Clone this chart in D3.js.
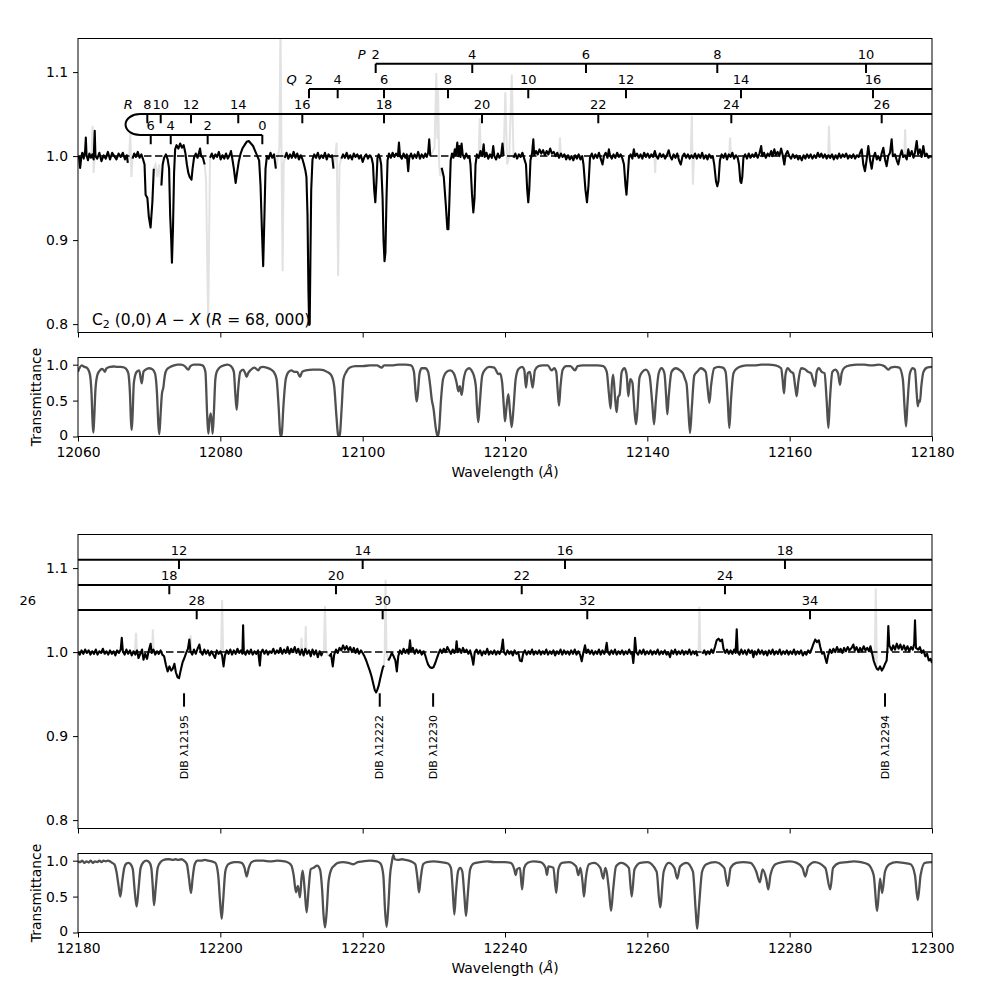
<!DOCTYPE html>
<html><head><meta charset="utf-8">
<script src="https://cdn.jsdelivr.net/npm/d3@7"></script>
<style>body{margin:0;background:#fff}svg{display:block}</style>
</head><body><svg id="c" width="981" height="981"></svg>
<script>
// ---------------- DATA ----------------
const xTicksTop = [12060,12080,12100,12120,12140,12160,12180];
const xTicksBottom = [12180,12200,12220,12240,12260,12280,12300];
const yTicksMain = [0.8,0.9,1.0,1.1];
const yTicksTell = [0,0.5,1.0];

// C2 line list (J, wavelength)
const topP = [[2,12101.83],[4,12115.40],[6,12131.38],[8,12149.83],[10,12170.73]];
const topQ = [[2,12092.46],[4,12096.49],[6,12103.00],[8,12111.99],[10,12123.27],[12,12137.00],[14,12153.16],[16,12171.71]];
const topRHigh = [[8,12069.74],[10,12071.62],[12,12075.88],[14,12082.52],[16,12091.52],[18,12103.00],[20,12116.77],[22,12133.11],[24,12151.80],[26,12172.93]];
const topRLow = [[0,12085.90],[2,12078.22],[4,12073.03],[6,12070.22]];
const botP = [[12,12194.19],[14,12220.00],[16,12248.43],[18,12279.34]];
const botQ = [[18,12192.83],[20,12216.25],[22,12242.35],[24,12270.91]];
const botR = [[26,12172.93],[28,12196.68],[30,12222.81],[32,12251.56],[34,12282.86]];
const branchLevels = {P:1.11, Q:1.08, R:1.05, Rlow:1.025};
const rHeadTurn = 12068.71, rHeadTip = 12066.68;
const branchLetterPos = [["P",12099.86],["Q",12090.03],["R",12067.07]];

const dibWave = [12194.9,12222.4,12229.9,12293.4];
const dibNames = ["DIB λ12195","DIB λ12222","DIB λ12230","DIB λ12294"];

// observed (corrected) spectrum, top panel: segments separated by masked gaps
const topSpectrum = [
[[12060.0,0.996],[12060.15,0.999],[12060.3,0.986],[12060.45,0.998],[12060.6,1.004],[12060.8,0.997],[12061.0,1.006],[12061.1,1.022],[12061.2,1.001],[12061.4,0.995],[12061.6,1.003],[12061.8,0.998],[12062.0,1.002],[12062.2,0.996],[12062.35,1.030],[12062.45,1.0],[12062.7,0.997],[12063.0,1.004],[12063.3,0.994],[12063.6,1.001],[12063.9,0.997],[12064.2,1.005],[12064.5,0.996],[12064.8,1.004],[12065.1,1.0],[12065.4,0.996],[12065.7,1.003],[12066.0,0.999],[12066.3,1.004],[12066.6,0.996],[12066.85,1.001],[12067.0,0.992]],
[[12067.65,0.997],[12067.9,1.003],[12068.15,0.999],[12068.4,1.005],[12068.65,0.998],[12068.9,1.002],[12069.15,0.996],[12069.35,0.99],[12069.5,0.954],[12069.75,0.95],[12069.95,0.928],[12070.2,0.915],[12070.45,0.945],[12070.65,0.985]],
[[12071.72,0.965],[12071.9,0.99],[12072.1,0.998],[12072.35,1.002],[12072.6,0.996],[12072.8,0.985],[12072.95,0.93],[12073.1,0.9],[12073.2,0.873],[12073.35,0.915],[12073.5,0.98],[12073.65,1.008],[12073.85,1.013],[12074.1,1.009],[12074.35,1.015],[12074.6,1.01],[12074.85,1.013],[12075.1,1.003],[12075.3,0.99],[12075.5,0.98],[12075.7,0.975],[12075.95,0.972],[12076.1,0.985],[12076.3,0.998],[12076.55,1.003],[12076.8,0.998],[12077.0,1.004],[12077.15,1.009],[12077.3,1.0],[12077.55,0.998],[12077.8,0.99]],
[[12078.55,0.998],[12078.8,1.003],[12079.05,0.997],[12079.3,1.002],[12079.55,0.999],[12079.8,1.005],[12080.05,0.996],[12080.3,1.001],[12080.55,0.997],[12080.8,1.003],[12081.05,0.997],[12081.3,1.001],[12081.5,1.006],[12081.7,0.996],[12081.9,0.985],[12082.15,0.968],[12082.35,0.98],[12082.6,0.994],[12082.85,1.003],[12083.1,1.009],[12083.4,1.013],[12083.7,1.017],[12084.0,1.018],[12084.3,1.015],[12084.6,1.012],[12084.9,1.006],[12085.2,1.0],[12085.45,0.995],[12085.65,0.965],[12085.85,0.91],[12086.02,0.869],[12086.2,0.93],[12086.35,0.985],[12086.55,1.0],[12086.8,0.997],[12087.05,1.004],[12087.3,0.998],[12087.55,1.002],[12087.8,0.985]],
[[12089.05,0.998],[12089.3,1.004],[12089.55,0.997],[12089.8,1.002],[12090.05,0.998],[12090.3,1.005],[12090.55,0.998],[12090.8,1.003],[12091.05,0.996],[12091.3,1.001],[12091.55,0.996],[12091.75,0.99],[12091.95,0.983],[12092.1,0.975],[12092.25,0.93],[12092.38,0.84],[12092.48,0.799],[12092.56,0.8],[12092.66,0.88],[12092.77,0.96],[12092.95,0.996],[12093.2,1.002],[12093.45,0.998],[12093.7,1.004],[12093.95,0.997],[12094.2,1.001],[12094.45,0.998],[12094.7,1.004],[12094.95,0.996],[12095.2,1.002],[12095.45,0.999],[12095.7,1.001],[12095.9,0.985]],
[[12097.0,0.997],[12097.25,1.002],[12097.5,0.998],[12097.75,1.004],[12098.0,0.997],[12098.25,1.001],[12098.5,0.996],[12098.75,1.003],[12099.0,0.999],[12099.25,1.002],[12099.5,0.997],[12099.75,1.001],[12100.0,0.993],[12100.25,0.999],[12100.5,1.002],[12100.75,0.997],[12101.0,1.001],[12101.25,0.998],[12101.45,0.99],[12101.62,0.96],[12101.78,0.945],[12101.94,0.97],[12102.08,0.998],[12102.25,1.002],[12102.45,0.997],[12102.6,0.99],[12102.8,0.95],[12102.93,0.9],[12103.07,0.875],[12103.2,0.885],[12103.35,0.95],[12103.5,0.995],[12103.7,1.003],[12103.95,0.998],[12104.2,1.004],[12104.45,0.999],[12104.7,1.003],[12104.95,1.0],[12105.1,1.016],[12105.25,1.0],[12105.5,0.997],[12105.75,1.003],[12106.0,0.998],[12106.2,1.002],[12106.4,0.982],[12106.55,0.998],[12106.8,1.003],[12107.05,0.997],[12107.3,1.002],[12107.55,0.998],[12107.8,1.005],[12108.05,0.997],[12108.3,1.002],[12108.55,0.998],[12108.8,1.003],[12109.0,0.999],[12109.2,1.004],[12109.35,1.02],[12109.5,1.0]],
[[12111.1,0.986],[12111.4,0.975],[12111.7,0.94],[12111.9,0.913],[12112.05,0.913],[12112.2,0.95],[12112.37,0.995],[12112.55,1.003],[12112.75,0.998],[12112.95,1.008],[12113.1,1.001],[12113.3,1.016],[12113.45,1.0],[12113.6,1.012],[12113.75,0.999],[12113.9,1.015],[12114.05,1.002],[12114.3,0.997],[12114.55,1.003],[12114.8,0.998],[12115.0,1.0],[12115.15,0.99],[12115.36,0.955],[12115.55,0.933],[12115.72,0.95],[12115.86,0.99],[12116.05,1.002],[12116.3,0.998],[12116.55,1.006],[12116.8,1.0],[12117.0,1.014],[12117.15,0.999],[12117.4,1.004],[12117.65,0.997],[12117.9,1.002],[12118.15,0.998],[12118.35,1.012],[12118.5,1.0],[12118.75,0.996],[12119.0,1.003],[12119.2,0.998],[12119.45,1.001],[12119.65,1.015],[12119.8,1.0]],
[[12121.2,0.998],[12121.45,1.003],[12121.7,0.997],[12121.95,1.002],[12122.2,0.999],[12122.45,1.004],[12122.7,0.997],[12122.95,0.99],[12123.12,0.96],[12123.27,0.945],[12123.41,0.96],[12123.58,0.995],[12123.8,1.003],[12123.98,1.02],[12124.1,1.001],[12124.35,1.006],[12124.6,1.002],[12124.85,1.008],[12125.1,1.003],[12125.35,1.007],[12125.6,1.001],[12125.85,1.006],[12126.1,1.002],[12126.35,1.009],[12126.6,1.003],[12126.85,1.005],[12127.1,1.0],[12127.35,1.004],[12127.6,0.998],[12127.85,1.003],[12128.1,0.999],[12128.35,1.002],[12128.6,0.996],[12128.85,1.001],[12129.1,0.996],[12129.35,1.0],[12129.6,0.995],[12129.85,1.001],[12130.1,0.997],[12130.35,1.002],[12130.6,0.996],[12130.85,1.0],[12131.03,0.99],[12131.3,0.96],[12131.52,0.945],[12131.73,0.965],[12131.94,0.998],[12132.2,1.003],[12132.45,0.997],[12132.7,1.002],[12132.95,0.998],[12133.2,1.004],[12133.45,0.997],[12133.7,0.99],[12133.9,1.0],[12134.15,1.004],[12134.4,0.998],[12134.6,1.008],[12134.75,1.001],[12135.0,0.997],[12135.25,1.002],[12135.5,0.998],[12135.75,1.004],[12136.0,0.999],[12136.25,1.002],[12136.5,0.997],[12136.72,0.99],[12136.93,0.965],[12137.07,0.954],[12137.2,0.97],[12137.42,0.998],[12137.65,1.002],[12137.9,0.997],[12138.1,1.008],[12138.3,1.0],[12138.55,1.003],[12138.8,0.998],[12139.05,1.002],[12139.3,0.997],[12139.55,1.004],[12139.8,0.999],[12140.05,1.003],[12140.3,0.998],[12140.55,1.002],[12140.8,0.999],[12141.05,1.006],[12141.25,1.0],[12141.5,0.997],[12141.75,1.003],[12142.0,0.999],[12142.25,1.002],[12142.5,0.997],[12142.75,1.001],[12143.0,1.007],[12143.2,1.0],[12143.45,0.996],[12143.7,1.002],[12143.95,0.998],[12144.2,1.003],[12144.45,0.995],[12144.7,0.99],[12144.95,1.0],[12145.2,1.003],[12145.45,0.998],[12145.7,1.002],[12145.95,0.997],[12146.2,1.001],[12146.45,0.998],[12146.7,1.003],[12146.95,0.997],[12147.2,1.002],[12147.45,0.998],[12147.7,1.004],[12147.95,0.997],[12148.2,1.001],[12148.45,0.996],[12148.7,1.002],[12148.95,0.998],[12149.2,1.0],[12149.4,0.99],[12149.65,0.97],[12149.83,0.964],[12150.0,0.97],[12150.2,0.995],[12150.45,1.002],[12150.7,0.998],[12150.95,1.003],[12151.2,0.996],[12151.45,1.002],[12151.7,0.999],[12151.95,1.004],[12152.2,0.997],[12152.45,1.001],[12152.7,0.998],[12152.88,0.99],[12153.07,0.97],[12153.2,0.968],[12153.34,0.975],[12153.5,0.998],[12153.75,1.002],[12154.0,0.997],[12154.25,1.003],[12154.5,0.998],[12154.75,1.002],[12155.0,0.999],[12155.25,1.004],[12155.5,0.998],[12155.75,1.003],[12156.0,1.012],[12156.15,1.0],[12156.4,1.004],[12156.65,0.998],[12156.9,1.003],[12157.15,1.0],[12157.4,1.006],[12157.6,1.0],[12157.85,1.008],[12158.05,1.001],[12158.3,1.005],[12158.55,1.0],[12158.8,1.009],[12159.0,1.002],[12159.25,0.99],[12159.45,1.002],[12159.7,1.006],[12159.95,1.0],[12160.2,0.997],[12160.45,1.002],[12160.7,0.998],[12160.95,1.001],[12161.2,0.996],[12161.45,1.0],[12161.7,0.995],[12161.95,1.001],[12162.2,0.997],[12162.45,1.002],[12162.7,0.998],[12162.95,1.002],[12163.2,0.997],[12163.45,1.001],[12163.7,0.998],[12163.95,1.004],[12164.2,0.999],[12164.45,1.003],[12164.7,0.998],[12164.95,1.002],[12165.2,0.997],[12165.45,1.001],[12165.7,0.998],[12165.95,1.002],[12166.2,0.996],[12166.45,1.001],[12166.7,0.997],[12166.95,1.003],[12167.2,0.998],[12167.45,1.002],[12167.7,0.999],[12167.95,1.003],[12168.2,0.997],[12168.45,1.001],[12168.7,0.998],[12168.95,1.002],[12169.2,0.997],[12169.45,1.001],[12169.7,0.999],[12169.9,1.004],[12170.12,1.008],[12170.35,0.99],[12170.58,0.982],[12170.8,0.995],[12171.05,1.012],[12171.3,0.995],[12171.53,0.985],[12171.75,0.998],[12172.0,1.004],[12172.25,0.996],[12172.45,1.0],[12172.7,0.995],[12172.95,1.004],[12173.16,1.01],[12173.4,0.996],[12173.63,0.988],[12173.85,1.0],[12174.1,1.004],[12174.33,1.02],[12174.5,1.0],[12174.8,1.002],[12175.05,0.995],[12175.26,0.99],[12175.5,1.0],[12175.74,1.007],[12175.95,0.999],[12176.2,1.001],[12176.45,0.996],[12176.67,1.008],[12176.9,1.0],[12177.15,1.006],[12177.4,0.998],[12177.6,1.004],[12177.85,1.018],[12178.05,1.002],[12178.31,1.008],[12178.55,0.999],[12178.78,1.012],[12179.0,1.0],[12179.25,1.003],[12179.5,0.998],[12179.72,1.0],[12180.0,0.999]]
];

// full (uncorrected) spectrum in masked regions, top panel
const topResidual = [
[[12061.9,1.0],[12062.05,1.036],[12062.2,0.98],[12062.35,1.0]],
[[12067.0,0.992],[12067.2,1.0],[12067.35,1.03],[12067.5,0.975],[12067.65,0.997]],
[[12070.65,0.985],[12070.9,0.99],[12071.15,0.975],[12071.4,0.99],[12071.72,0.965]],
[[12077.8,0.99],[12078.0,0.97],[12078.2,0.85],[12078.3,0.80],[12078.42,0.9],[12078.55,0.998]],
[[12087.8,0.985],[12088.1,1.0],[12088.3,1.01],[12088.45,1.16],[12088.6,1.0],[12088.75,0.863],[12088.9,0.99],[12089.05,0.998]],
[[12095.9,0.985],[12096.15,1.0],[12096.35,1.016],[12096.55,0.857],[12096.75,0.99],[12097.0,0.997]],
[[12109.5,1.0],[12109.8,1.005],[12110.1,1.01],[12110.35,1.099],[12110.5,1.02],[12110.6,1.08],[12110.75,0.99],[12110.9,0.976],[12111.1,0.986]],
[[12116.3,1.0],[12116.45,1.045],[12116.6,1.0]],
[[12119.8,1.0],[12120.05,1.076],[12120.3,0.99],[12120.6,1.0],[12120.95,1.097],[12121.2,0.998]],
[[12127.6,1.0],[12127.72,1.022],[12127.85,1.0]],
[[12141.0,1.0],[12141.1,0.98],[12141.2,1.0]],
[[12146.1,1.0],[12146.25,1.048],[12146.4,0.966],[12146.55,1.0]],
[[12151.5,1.0],[12151.62,1.022],[12151.75,1.0]],
[[12165.4,1.0],[12165.52,1.036],[12165.65,1.0]],
[[12176.1,1.0],[12176.22,1.032],[12176.35,1.0]]
];

// telluric transmittance, top
const topTelluric = [[12060.0,0.9],[12060.2,0.95],[12060.5,0.99],[12060.9,0.97],[12061.2,0.96],[12061.45,0.93],[12061.7,0.85],[12061.9,0.6],[12062.05,0.2],[12062.15,0.056],[12062.25,0.2],[12062.45,0.65],[12062.7,0.85],[12063.0,0.91],[12063.3,0.94],[12063.56,0.93],[12063.79,0.9],[12064.0,0.95],[12064.5,0.97],[12065.0,0.975],[12065.5,0.97],[12066.0,0.97],[12066.5,0.96],[12066.84,0.93],[12067.07,0.88],[12067.3,0.6],[12067.45,0.2],[12067.54,0.093],[12067.65,0.25],[12067.85,0.75],[12068.24,0.9],[12068.6,0.92],[12068.95,0.74],[12069.2,0.9],[12069.5,0.93],[12070.0,0.95],[12070.4,0.94],[12070.82,0.88],[12071.1,0.6],[12071.3,0.15],[12071.43,0.033],[12071.6,0.3],[12071.8,0.6],[12071.99,0.68],[12072.2,0.85],[12072.46,0.93],[12073.0,0.97],[12073.5,0.99],[12074.0,1.0],[12074.5,1.0],[12075.0,0.98],[12075.5,0.93],[12075.8,0.98],[12076.3,1.0],[12077.0,1.0],[12077.5,0.99],[12077.9,0.9],[12078.15,0.3],[12078.31,0.04],[12078.45,0.2],[12078.64,0.32],[12078.8,0.2],[12078.92,0.04],[12079.1,0.35],[12079.3,0.8],[12079.49,0.9],[12079.9,0.96],[12080.5,0.99],[12081.0,1.0],[12081.5,0.98],[12081.9,0.9],[12082.1,0.6],[12082.3,0.37],[12082.5,0.65],[12082.8,0.9],[12083.2,0.93],[12083.5,0.88],[12083.7,0.83],[12083.9,0.88],[12084.3,0.93],[12084.8,0.96],[12085.34,0.92],[12085.6,0.96],[12086.0,0.97],[12086.5,0.96],[12087.0,0.94],[12087.5,0.9],[12087.9,0.8],[12088.2,0.4],[12088.4,0.05],[12088.52,0.0],[12088.65,0.05],[12088.85,0.4],[12089.2,0.8],[12089.6,0.9],[12090.0,0.92],[12090.4,0.9],[12090.8,0.9],[12091.19,0.83],[12091.5,0.9],[12092.0,0.92],[12093.0,0.93],[12094.0,0.93],[12095.0,0.9],[12095.6,0.85],[12096.0,0.7],[12096.3,0.3],[12096.55,0.02],[12096.67,0.0],[12096.8,0.03],[12097.05,0.4],[12097.3,0.8],[12097.7,0.9],[12098.2,0.96],[12099.0,0.98],[12100.0,0.98],[12101.0,0.99],[12102.0,0.99],[12102.67,0.96],[12103.0,0.99],[12104.0,0.99],[12105.0,1.0],[12106.0,1.0],[12106.8,0.99],[12107.2,0.9],[12107.45,0.6],[12107.59,0.49],[12107.75,0.6],[12108.0,0.88],[12108.3,0.95],[12108.8,0.95],[12109.2,0.9],[12109.5,0.7],[12109.7,0.52],[12109.95,0.39],[12110.3,0.1],[12110.54,0.0],[12110.75,0.1],[12111.0,0.5],[12111.3,0.8],[12111.8,0.9],[12112.3,0.92],[12112.8,0.88],[12113.2,0.75],[12113.44,0.63],[12113.65,0.7],[12113.91,0.58],[12114.2,0.8],[12114.6,0.93],[12115.0,0.95],[12115.3,0.92],[12115.55,0.87],[12115.9,0.7],[12116.1,0.35],[12116.25,0.2],[12116.45,0.45],[12116.8,0.85],[12117.2,0.93],[12117.8,0.97],[12118.5,0.96],[12119.06,0.87],[12119.3,0.88],[12119.6,0.75],[12119.85,0.4],[12120.0,0.21],[12120.2,0.4],[12120.47,0.59],[12120.7,0.35],[12120.94,0.13],[12121.2,0.4],[12121.5,0.8],[12121.9,0.94],[12122.4,0.97],[12122.7,0.93],[12122.95,0.68],[12123.2,0.88],[12123.5,0.9],[12123.89,0.68],[12124.2,0.92],[12124.7,0.98],[12125.3,0.99],[12126.0,0.99],[12126.56,0.92],[12126.9,0.95],[12127.2,0.9],[12127.4,0.65],[12127.59,0.43],[12127.8,0.7],[12128.1,0.93],[12128.6,0.98],[12129.2,0.98],[12129.84,0.92],[12130.2,0.98],[12131.0,0.99],[12132.0,0.99],[12133.0,0.99],[12133.8,0.98],[12134.3,0.9],[12134.6,0.6],[12134.85,0.39],[12135.0,0.7],[12135.2,0.86],[12135.5,0.5],[12135.69,0.34],[12135.9,0.55],[12136.1,0.58],[12136.4,0.9],[12136.8,0.95],[12137.1,0.85],[12137.33,0.56],[12137.6,0.8],[12137.9,0.75],[12138.2,0.35],[12138.41,0.17],[12138.6,0.35],[12138.9,0.82],[12139.3,0.9],[12139.8,0.93],[12140.3,0.85],[12140.7,0.45],[12140.94,0.17],[12141.2,0.5],[12141.6,0.88],[12142.0,0.95],[12142.4,0.88],[12142.65,0.55],[12142.81,0.31],[12143.0,0.55],[12143.4,0.9],[12144.0,0.95],[12144.6,0.92],[12145.0,0.88],[12145.3,0.8],[12145.53,0.72],[12145.75,0.4],[12146.0,0.05],[12146.25,0.4],[12146.6,0.85],[12147.0,0.9],[12147.5,0.95],[12148.2,0.9],[12148.5,0.65],[12148.72,0.47],[12148.95,0.7],[12149.4,0.95],[12150.0,0.97],[12150.6,0.96],[12151.0,0.9],[12151.3,0.5],[12151.52,0.12],[12151.75,0.5],[12152.1,0.88],[12152.6,0.95],[12153.3,0.98],[12154.0,0.99],[12155.0,0.99],[12156.0,1.0],[12157.0,1.0],[12158.0,0.99],[12158.8,0.95],[12159.0,0.8],[12159.21,0.6],[12159.4,0.85],[12159.7,0.95],[12160.2,0.9],[12160.5,0.88],[12160.8,0.68],[12160.99,0.56],[12161.2,0.75],[12161.6,0.95],[12162.1,0.94],[12162.6,0.9],[12163.0,0.88],[12163.3,0.78],[12163.56,0.7],[12163.8,0.9],[12164.1,0.95],[12164.5,0.9],[12164.9,0.88],[12165.2,0.5],[12165.44,0.12],[12165.65,0.5],[12166.0,0.9],[12166.4,0.93],[12166.8,0.88],[12167.07,0.72],[12167.3,0.88],[12167.7,0.96],[12168.5,0.99],[12169.5,1.0],[12170.5,1.0],[12171.5,0.99],[12172.5,1.0],[12173.3,0.98],[12173.87,0.93],[12174.2,0.96],[12174.8,0.97],[12175.4,0.96],[12175.9,0.8],[12176.15,0.4],[12176.35,0.14],[12176.55,0.45],[12176.9,0.88],[12177.3,0.95],[12177.6,0.93],[12177.85,0.6],[12178.0,0.42],[12178.15,0.5],[12178.3,0.48],[12178.5,0.7],[12178.8,0.9],[12179.3,0.96],[12180.0,0.97]];

// observed spectrum, bottom panel
const bottomSpectrum = [
[[12180.0,1.0],[12180.25,0.997],[12180.5,1.002],[12180.75,0.998],[12181.0,1.003],[12181.25,0.999],[12181.5,1.002],[12181.75,0.997],[12182.0,1.001],[12182.25,0.998],[12182.5,1.003],[12182.75,0.997],[12183.0,1.001],[12183.25,0.999],[12183.5,1.004],[12183.75,0.998],[12184.0,1.001],[12184.25,0.997],[12184.5,1.002],[12184.75,0.998],[12185.0,1.001],[12185.25,0.996],[12185.5,1.002],[12185.75,0.999],[12186.0,1.003],[12186.15,1.017],[12186.3,1.001],[12186.55,0.997],[12186.8,1.003],[12187.05,0.998],[12187.3,1.002],[12187.55,0.996],[12187.8,1.001],[12188.05,0.997],[12188.3,1.002],[12188.5,0.993],[12188.75,0.998],[12189.0,1.003],[12189.2,0.991],[12189.45,0.998],[12189.7,0.992],[12189.95,1.002],[12190.2,1.01],[12190.35,0.999],[12190.6,1.003],[12190.85,0.997],[12191.1,1.001],[12191.35,0.998],[12191.6,1.002],[12191.85,0.997],[12192.1,0.995],[12192.35,0.985],[12192.6,0.977],[12192.85,0.983],[12193.1,0.978],[12193.3,0.98],[12193.55,0.986],[12193.75,0.976],[12194.0,0.97],[12194.2,0.969],[12194.45,0.979],[12194.7,0.988],[12194.95,0.993],[12195.2,0.999],[12195.45,1.004],[12195.65,1.015],[12195.8,1.001],[12196.05,0.997],[12196.3,1.003],[12196.55,0.998],[12196.8,1.004],[12197.05,1.009],[12197.25,1.0],[12197.5,0.997],[12197.75,1.003],[12198.0,0.998],[12198.25,1.002],[12198.5,0.996],[12198.75,1.001],[12199.0,0.997],[12199.25,0.993],[12199.5,1.002],[12199.75,0.998],[12200.0,1.001],[12200.25,0.996],[12200.45,0.983],[12200.65,0.996],[12200.9,1.002],[12201.15,0.998],[12201.4,1.003],[12201.65,0.997],[12201.9,1.002],[12202.15,0.998],[12202.4,1.004],[12202.65,0.999],[12202.9,1.002],[12203.1,0.998],[12203.2,1.032],[12203.3,1.0],[12203.55,0.997],[12203.8,1.002],[12204.05,0.998],[12204.3,1.003],[12204.55,0.997],[12204.8,1.001],[12205.05,0.998],[12205.3,1.002],[12205.55,0.984],[12205.7,0.999],[12205.95,1.003],[12206.2,0.998],[12206.45,1.002],[12206.7,0.997],[12206.95,1.001],[12207.2,0.999],[12207.45,1.004],[12207.7,0.998],[12207.95,1.002],[12208.2,0.999],[12208.45,1.005],[12208.7,0.998],[12208.95,1.003],[12209.2,0.999],[12209.45,1.006],[12209.7,0.998],[12209.95,1.004],[12210.2,1.0],[12210.45,1.006],[12210.7,0.999],[12210.95,1.004],[12211.2,0.997],[12211.45,1.003],[12211.7,0.996],[12211.95,1.004],[12212.2,0.998],[12212.45,1.002],[12212.7,0.995],[12212.95,1.003],[12213.2,0.997],[12213.45,1.002],[12213.7,0.994],[12213.95,1.001],[12214.2,0.996],[12214.35,0.999]],
[[12215.3,0.995],[12215.55,0.998],[12215.8,0.983],[12216.0,0.997],[12216.25,1.003],[12216.5,0.999],[12216.75,1.005],[12217.0,1.002],[12217.25,1.008],[12217.5,1.003],[12217.75,1.007],[12218.0,1.002],[12218.25,1.006],[12218.5,1.0],[12218.75,1.005],[12219.0,0.999],[12219.25,1.004],[12219.5,0.998],[12219.75,1.002],[12220.0,0.999],[12220.25,0.995],[12220.5,0.99],[12220.75,0.984],[12221.0,0.978],[12221.25,0.971],[12221.5,0.962],[12221.7,0.955],[12221.9,0.952],[12222.05,0.955],[12222.25,0.96],[12222.45,0.968],[12222.65,0.975],[12222.85,0.982],[12223.0,0.984]],
[[12223.6,0.99],[12223.85,0.994],[12224.1,0.999],[12224.35,0.995],[12224.6,0.99],[12224.8,0.977],[12225.0,0.995],[12225.25,1.002],[12225.5,0.998],[12225.75,1.004],[12226.0,0.999],[12226.25,1.003],[12226.45,0.998],[12226.65,1.014],[12226.8,1.001],[12227.05,1.005],[12227.3,0.998],[12227.55,1.003],[12227.8,0.999],[12228.05,1.002],[12228.3,0.997],[12228.55,1.001],[12228.8,0.996],[12229.0,0.99],[12229.2,0.985],[12229.45,0.982],[12229.7,0.981],[12229.95,0.982],[12230.2,0.987],[12230.4,0.992],[12230.65,0.998],[12230.9,1.003],[12231.15,0.999],[12231.4,1.004],[12231.65,1.0],[12231.9,1.006],[12232.15,1.002],[12232.4,0.998],[12232.65,1.003],[12232.9,0.999],[12233.1,1.004],[12233.2,1.013],[12233.35,1.0],[12233.6,1.004],[12233.85,0.999],[12234.1,1.005],[12234.35,1.0],[12234.6,1.003],[12234.85,0.998],[12235.1,1.002],[12235.35,0.994],[12235.55,0.985],[12235.75,1.0],[12236.0,1.003],[12236.25,0.998],[12236.5,1.002],[12236.75,0.996],[12237.0,1.001],[12237.25,0.998],[12237.5,1.004],[12237.75,0.997],[12238.0,1.001],[12238.25,0.998],[12238.5,1.002],[12238.75,0.997],[12239.0,1.001],[12239.25,0.998],[12239.5,1.003],[12239.7,1.015],[12239.85,1.0],[12240.1,0.997],[12240.35,1.002],[12240.6,0.998],[12240.85,1.001],[12241.1,0.996],[12241.35,1.002],[12241.6,0.998],[12241.85,1.0],[12242.1,0.99],[12242.35,0.989],[12242.55,0.998],[12242.8,1.002],[12243.05,0.997],[12243.3,1.001],[12243.55,0.998],[12243.8,1.003],[12244.05,0.997],[12244.3,1.001],[12244.55,0.998],[12244.8,1.002],[12245.05,0.997],[12245.3,1.001],[12245.55,0.998],[12245.8,1.003],[12246.05,0.997],[12246.3,1.001],[12246.55,0.998],[12246.8,1.002],[12247.05,0.996],[12247.3,1.001],[12247.55,0.998],[12247.8,1.003],[12248.05,0.997],[12248.3,1.002],[12248.55,0.998],[12248.8,1.001],[12249.05,0.997],[12249.3,1.002],[12249.55,0.998],[12249.8,1.003],[12250.05,0.997],[12250.3,1.001],[12250.55,0.997],[12250.78,0.989],[12251.0,0.999],[12251.24,1.008],[12251.45,0.999],[12251.7,1.003],[12251.95,0.998],[12252.2,1.002],[12252.45,0.997],[12252.7,1.001],[12252.95,0.998],[12253.2,1.003],[12253.45,0.997],[12253.7,1.002],[12253.95,0.998],[12254.1,1.001],[12254.29,1.011],[12254.45,1.0],[12254.7,0.997],[12254.95,1.002],[12255.2,0.998],[12255.45,1.003],[12255.7,0.997],[12255.95,1.001],[12256.2,0.998],[12256.45,1.002],[12256.7,0.997],[12256.95,1.001],[12257.2,0.998],[12257.45,1.003],[12257.7,0.998],[12257.85,1.0],[12258.03,0.987],[12258.15,0.999],[12258.27,1.017],[12258.45,1.0],[12258.7,0.997],[12258.95,1.002],[12259.2,0.998],[12259.45,1.003],[12259.7,0.997],[12259.95,1.001],[12260.2,0.998],[12260.45,1.002],[12260.7,0.997],[12260.95,1.001],[12261.2,0.998],[12261.45,1.003],[12261.7,0.997],[12261.95,1.001],[12262.2,0.998],[12262.45,1.002],[12262.7,0.997],[12262.95,1.0],[12263.19,0.994],[12263.4,1.002],[12263.65,0.998],[12263.9,1.003],[12264.15,0.997],[12264.4,1.001],[12264.65,0.998],[12264.9,1.002],[12265.15,0.997],[12265.4,1.001],[12265.65,0.998],[12265.9,1.003],[12266.15,0.997],[12266.4,1.001],[12266.65,0.998],[12266.85,1.001],[12267.05,0.995]],
[[12267.75,0.998],[12268.0,1.002],[12268.25,0.997],[12268.5,1.001],[12268.75,0.998],[12269.0,1.003],[12269.25,0.999],[12269.5,1.006],[12269.75,1.014],[12270.0,1.016],[12270.25,1.013],[12270.5,1.015],[12270.7,1.004],[12270.95,0.999],[12271.2,1.003],[12271.45,0.998],[12271.7,1.002],[12271.95,0.998],[12272.2,1.003],[12272.4,0.999],[12272.56,1.027],[12272.7,1.0],[12272.95,0.997],[12273.2,1.003],[12273.45,0.998],[12273.7,1.002],[12273.95,0.997],[12274.2,1.003],[12274.45,0.999],[12274.7,1.002],[12274.9,0.994],[12275.1,1.001],[12275.35,0.997],[12275.6,1.003],[12275.85,0.998],[12276.1,1.002],[12276.35,0.997],[12276.6,1.001],[12276.85,0.996],[12277.1,1.002],[12277.35,0.998],[12277.6,1.003],[12277.85,0.997],[12278.1,1.001],[12278.35,0.998],[12278.6,1.003],[12278.85,0.997],[12279.1,1.001],[12279.35,0.998],[12279.6,1.002],[12279.85,0.997],[12280.1,1.001],[12280.35,0.998],[12280.6,1.003],[12280.85,0.997],[12281.1,1.001],[12281.35,0.998],[12281.6,1.002],[12281.85,0.996],[12282.1,1.0],[12282.35,0.997],[12282.6,1.002],[12282.85,0.999],[12283.1,1.004],[12283.35,1.01],[12283.6,1.015],[12283.85,1.012],[12284.1,1.014],[12284.3,1.006],[12284.55,0.998],[12284.8,1.0],[12285.0,0.993],[12285.2,0.987],[12285.4,0.996],[12285.65,1.003],[12285.9,0.999],[12286.15,1.004],[12286.4,1.0],[12286.65,1.006],[12286.9,1.001],[12287.15,1.004],[12287.4,0.999],[12287.65,1.005],[12287.9,1.001],[12288.15,1.006],[12288.4,1.002],[12288.7,1.005],[12288.95,1.009],[12289.15,1.002],[12289.4,1.006],[12289.65,1.0],[12289.9,1.005],[12290.15,1.001],[12290.4,1.007],[12290.65,1.002],[12290.9,1.005],[12291.15,1.001],[12291.35,1.007],[12291.6,0.998],[12291.8,0.99],[12292.0,0.985],[12292.25,0.98],[12292.45,0.979],[12292.7,0.983],[12292.95,0.978],[12293.16,0.981],[12293.4,0.986],[12293.63,0.99],[12293.75,1.005],[12293.86,1.031],[12294.0,1.008],[12294.33,1.002],[12294.55,1.008],[12294.8,1.003],[12295.05,1.01],[12295.3,1.004],[12295.55,1.009],[12295.8,1.003],[12296.05,1.008],[12296.3,1.002],[12296.55,1.007],[12296.8,1.001],[12297.05,1.006],[12297.3,1.003],[12297.5,1.01],[12297.61,1.038],[12297.75,1.005],[12298.07,1.003],[12298.3,1.006],[12298.55,0.999],[12298.8,1.002],[12299.05,0.995],[12299.3,0.998],[12299.55,0.99],[12299.8,0.992],[12300.0,0.987]]
];

const bottomResidual = [
[[12188.0,1.0],[12188.15,1.023],[12188.3,1.0]],
[[12190.4,1.0],[12190.52,1.027],[12190.65,1.0]],
[[12195.7,1.0],[12195.82,1.02],[12195.95,1.0]],
[[12200.1,1.0],[12200.25,1.062],[12200.4,1.0]],
[[12211.3,1.0],[12211.4,1.017],[12211.5,1.0]],
[[12211.9,1.0],[12212.0,1.031],[12212.1,1.0]],
[[12214.35,0.999],[12214.55,1.0],[12214.7,1.055],[12214.85,1.0],[12215.3,0.995]],
[[12223.0,0.984],[12223.1,1.0],[12223.22,1.086],[12223.35,1.0],[12223.6,0.99]],
[[12267.05,0.995],[12267.2,1.0],[12267.32,1.054],[12267.45,1.0],[12267.75,0.998]],
[[12291.95,0.99],[12292.1,1.076],[12292.25,0.985]]
];

const bottomTelluric = [[12180.0,0.99],[12180.3,0.98],[12180.6,1.0],[12180.9,0.97],[12181.2,0.99],[12181.5,0.975],[12181.8,1.0],[12182.1,0.97],[12182.4,0.99],[12182.7,0.98],[12183.0,1.0],[12183.3,0.98],[12183.6,1.0],[12183.9,0.99],[12184.2,1.0],[12184.5,0.99],[12184.8,0.97],[12185.1,0.95],[12185.4,0.85],[12185.7,0.65],[12185.95,0.5],[12186.2,0.7],[12186.5,0.9],[12186.8,0.96],[12187.1,0.97],[12187.4,0.95],[12187.7,0.88],[12187.95,0.6],[12188.24,0.36],[12188.5,0.6],[12188.8,0.9],[12189.2,0.98],[12189.6,1.0],[12190.0,0.98],[12190.3,0.9],[12190.5,0.65],[12190.68,0.38],[12190.9,0.6],[12191.2,0.9],[12191.6,0.98],[12192.0,1.01],[12192.5,1.02],[12192.9,1.02],[12193.3,1.01],[12193.7,1.02],[12194.1,1.01],[12194.5,1.02],[12194.9,1.0],[12195.3,0.95],[12195.6,0.75],[12195.88,0.55],[12196.1,0.75],[12196.4,0.95],[12196.8,1.0],[12197.3,1.0],[12197.8,1.01],[12198.3,1.0],[12198.8,0.99],[12199.3,0.97],[12199.7,0.8],[12199.95,0.45],[12200.19,0.19],[12200.4,0.45],[12200.7,0.85],[12201.1,0.95],[12201.5,0.97],[12202.0,0.98],[12202.5,0.98],[12203.0,0.97],[12203.4,0.9],[12203.7,0.78],[12204.0,0.9],[12204.4,0.98],[12205.0,1.0],[12206.0,1.0],[12207.0,0.99],[12208.0,1.0],[12209.0,0.99],[12209.6,0.97],[12210.0,0.93],[12210.3,0.8],[12210.63,0.56],[12210.9,0.65],[12211.19,0.49],[12211.4,0.75],[12211.57,0.86],[12211.85,0.6],[12212.13,0.28],[12212.4,0.6],[12212.7,0.88],[12213.1,0.9],[12213.6,0.93],[12214.0,0.88],[12214.3,0.6],[12214.5,0.25],[12214.71,0.07],[12214.95,0.3],[12215.2,0.7],[12215.6,0.88],[12216.0,0.93],[12216.5,0.97],[12217.2,0.98],[12218.0,0.97],[12218.69,0.95],[12219.3,0.98],[12220.0,0.99],[12221.0,1.0],[12222.0,0.99],[12222.5,0.96],[12222.9,0.8],[12223.15,0.3],[12223.37,0.08],[12223.6,0.35],[12223.85,0.8],[12224.1,0.98],[12224.31,1.08],[12224.5,1.02],[12225.0,1.01],[12225.5,1.02],[12226.0,1.01],[12226.5,1.0],[12227.0,0.98],[12227.4,0.95],[12227.7,0.75],[12227.92,0.56],[12228.15,0.75],[12228.5,0.95],[12229.0,0.98],[12230.0,0.99],[12231.0,0.98],[12232.0,0.96],[12232.4,0.9],[12232.65,0.6],[12232.88,0.25],[12233.1,0.55],[12233.4,0.85],[12233.7,0.9],[12234.0,0.85],[12234.3,0.5],[12234.52,0.23],[12234.75,0.5],[12235.1,0.88],[12235.6,0.96],[12236.5,0.98],[12237.5,0.99],[12238.5,0.98],[12239.3,0.98],[12240.0,0.98],[12240.8,0.97],[12241.3,0.88],[12241.5,0.8],[12241.7,0.88],[12242.1,0.9],[12242.4,0.6],[12242.7,0.9],[12243.2,0.97],[12244.0,0.99],[12245.0,0.98],[12245.7,0.9],[12245.9,0.8],[12246.1,0.92],[12246.8,0.9],[12247.2,0.55],[12247.5,0.88],[12248.0,0.97],[12249.0,0.98],[12250.0,0.92],[12250.3,0.8],[12250.6,0.9],[12250.9,0.7],[12251.1,0.5],[12251.35,0.75],[12251.8,0.95],[12252.5,0.97],[12253.4,0.9],[12253.8,0.75],[12254.1,0.9],[12254.6,0.6],[12254.9,0.3],[12255.2,0.6],[12255.6,0.92],[12256.3,0.97],[12257.4,0.9],[12257.8,0.5],[12258.2,0.88],[12259.0,0.97],[12260.0,0.98],[12261.3,0.85],[12261.8,0.35],[12262.3,0.85],[12263.0,0.97],[12263.8,0.9],[12264.2,0.75],[12264.6,0.92],[12265.5,0.97],[12266.4,0.85],[12266.8,0.3],[12267.0,0.05],[12267.25,0.35],[12267.7,0.85],[12268.3,0.95],[12269.5,0.98],[12270.8,0.9],[12271.3,0.65],[12271.7,0.9],[12272.5,0.97],[12273.5,0.98],[12274.5,0.97],[12275.3,0.85],[12275.8,0.7],[12276.2,0.88],[12276.7,0.75],[12277.0,0.6],[12277.3,0.8],[12278.0,0.95],[12279.0,0.98],[12280.0,0.99],[12281.0,0.97],[12281.8,0.9],[12282.2,0.78],[12282.6,0.92],[12283.5,0.98],[12285.0,0.9],[12285.7,0.6],[12286.1,0.9],[12287.0,0.97],[12288.0,0.98],[12289.0,0.99],[12290.0,0.98],[12291.0,0.95],[12291.8,0.8],[12292.3,0.3],[12292.7,0.75],[12293.0,0.55],[12293.4,0.85],[12294.0,0.95],[12295.0,0.98],[12296.0,0.97],[12297.0,0.95],[12297.6,0.8],[12298.0,0.45],[12298.4,0.8],[12299.0,0.97],[12300.0,0.98]];

// ---------------- DRAWING ----------------
const FONT = '"DejaVu Sans", sans-serif';
const svg = d3.select('#c');
const L = 78, R = 932;
const MAIN_H = 294, TELL_H = 79;

function styleAxis(g) {
  g.attr('font-family', FONT).attr('font-size', 13.9);
  g.select('.domain').remove();
  g.selectAll('line').attr('stroke', '#000').attr('stroke-width', 1);
  g.selectAll('text').attr('fill', '#000');
}

function drawPair(cfg) {
  const x = d3.scaleLinear().domain(cfg.xdom).range([L, R]);
  const top = cfg.top;
  const y = d3.scaleLinear().domain([0.79, 1.14]).range([top + MAIN_H, top]);
  const g = svg.append('g');
  const cid = 'clip' + top;
  svg.append('clipPath').attr('id', cid).append('rect')
    .attr('x', L).attr('y', top).attr('width', R - L).attr('height', MAIN_H);
  const plot = g.append('g').attr('clip-path', `url(#${cid})`);
  const line = d3.line().x(d => x(d[0])).y(d => y(d[1]));

  cfg.resid.forEach(s => plot.append('path').attr('d', line(s))
    .attr('fill', 'none').attr('stroke', '#e2e2e2').attr('stroke-width', 2));
  plot.append('path').attr('d', line([[cfg.xdom[0], 1], [cfg.xdom[1], 1]]))
    .attr('fill', 'none').attr('stroke', '#000').attr('stroke-width', 1.5)
    .attr('stroke-dasharray', '7.5,3.5');
  cfg.spec.forEach(s => plot.append('path').attr('d', line(s))
    .attr('fill', 'none').attr('stroke', '#000').attr('stroke-width', 2.1)
    .attr('stroke-linejoin', 'round'));

  // branch line lists
  const tickDrop = 0.011;
  const labelG = g.append('g').attr('font-family', FONT).attr('font-size', 13).attr('text-anchor', 'middle');
  cfg.branches.forEach(b => {
    const lv = b.level;
    plot.append('path').attr('d', line([[b.start, lv], [b.end, lv]]))
      .attr('fill', 'none').attr('stroke', '#000').attr('stroke-width', 2);
    b.items.forEach(([J, w]) => {
      plot.append('path').attr('d', line([[w, lv], [w, lv - tickDrop]]))
        .attr('fill', 'none').attr('stroke', '#000').attr('stroke-width', 2);
      labelG.append('text').attr('x', x(w)).attr('y', y(lv) - 5).text(J);
    });
  });
  if (cfg.headArc) {
    const xa = x(rHeadTurn), xt = x(rHeadTip);
    const y1 = y(branchLevels.R), y2 = y(branchLevels.Rlow);
    plot.append('path')
      .attr('d', `M${xa},${y1} A${xa - xt},${(y2 - y1) / 2} 0 0 0 ${xa},${y2}`)
      .attr('fill', 'none').attr('stroke', '#000').attr('stroke-width', 2);
  }
  if (cfg.letters) {
    const lvMap = {P: branchLevels.P, Q: branchLevels.Q, R: branchLevels.R};
    cfg.letters.forEach(([t, w]) => {
      g.append('text').attr('x', x(w)).attr('y', y(lvMap[t]) - 5)
        .attr('font-family', FONT).attr('font-size', 13).attr('font-style', 'italic')
        .attr('text-anchor', 'middle').text(t);
    });
  }
  // DIB markers
  if (cfg.dibs) {
    dibWave.forEach((w, i) => {
      g.append('line').attr('x1', x(w)).attr('x2', x(w)).attr('y1', y(0.951)).attr('y2', y(0.935))
        .attr('stroke', '#000').attr('stroke-width', 2);
      g.append('text').attr('transform', `translate(${x(w)},${y(0.925)}) rotate(-90)`)
        .attr('text-anchor', 'end').attr('dominant-baseline', 'central')
        .attr('font-family', FONT).attr('font-size', 11).text(dibNames[i]);
    });
  }
  if (cfg.title) {
    const t = g.append('text').attr('x', L + 14).attr('y', top + MAIN_H - 8)
      .attr('font-family', FONT).attr('font-size', 15.5);
    t.append('tspan').text('C');
    t.append('tspan').attr('font-size', 11).attr('dy', 3.5).text('2');
    t.append('tspan').attr('dy', -3.5).text('\u00a0(0,0)\u00a0');
    t.append('tspan').attr('font-style', 'italic').text('A');
    t.append('tspan').text('\u00a0\u2212\u00a0');
    t.append('tspan').attr('font-style', 'italic').text('X');
    t.append('tspan').text('\u00a0(');
    t.append('tspan').attr('font-style', 'italic').text('R');
    t.append('tspan').text('\u00a0=\u00a068,\u00a0000)');
  }
  // axes main
  const ay = g.append('g').attr('transform', `translate(${L},0)`)
    .call(d3.axisLeft(y).tickValues(yTicksMain).tickFormat(d3.format('.1f')).tickSize(5).tickPadding(5));
  styleAxis(ay);
  const ax = g.append('g').attr('transform', `translate(0,${top + MAIN_H})`)
    .call(d3.axisBottom(x).tickValues(cfg.xticks).tickFormat('').tickSize(5));
  styleAxis(ax);
  g.append('rect').attr('x', L).attr('y', top).attr('width', R - L).attr('height', MAIN_H)
    .attr('fill', 'none').attr('stroke', '#000').attr('stroke-width', 1);

  // telluric panel
  const tt = top + 319;
  const yt = d3.scaleLinear().domain([0, 1.1]).range([tt + TELL_H, tt]);
  const cid2 = 'clipT' + top;
  svg.append('clipPath').attr('id', cid2).append('rect')
    .attr('x', L).attr('y', tt).attr('width', R - L).attr('height', TELL_H);
  const tline = d3.line().x(d => x(d[0])).y(d => yt(d[1])).curve(d3.curveMonotoneX);
  g.append('g').attr('clip-path', `url(#${cid2})`).append('path').attr('d', tline(cfg.tell))
    .attr('fill', 'none').attr('stroke', '#505050').attr('stroke-width', 2.3).attr('stroke-linejoin', 'round');
  const tay = g.append('g').attr('transform', `translate(${L},0)`)
    .call(d3.axisLeft(yt).tickValues(yTicksTell).tickFormat(d => d === 0 ? '0' : d.toFixed(1)).tickSize(5).tickPadding(5));
  styleAxis(tay);
  // lift the "0" label slightly so it does not collide with the x tick labels
  tay.selectAll('.tick').filter(d => d === 0).select('text').attr('dy', '0.2em');
  const tax = g.append('g').attr('transform', `translate(0,${tt + TELL_H})`)
    .call(d3.axisBottom(x).tickValues(cfg.xticks).tickFormat(d3.format('d')).tickSize(5).tickPadding(6));
  styleAxis(tax);
  g.append('rect').attr('x', L).attr('y', tt).attr('width', R - L).attr('height', TELL_H)
    .attr('fill', 'none').attr('stroke', '#000').attr('stroke-width', 1);
  g.append('text').attr('transform', `translate(36,${tt + TELL_H / 2}) rotate(-90)`)
    .attr('text-anchor', 'middle').attr('dominant-baseline', 'central')
    .attr('font-family', FONT).attr('font-size', 13.9).text('Transmittance');
  const xl = g.append('text').attr('x', (L + R) / 2).attr('y', tt + TELL_H + 40)
    .attr('text-anchor', 'middle').attr('font-family', FONT).attr('font-size', 13.9);
  xl.append('tspan').text('Wavelength (');
  xl.append('tspan').attr('font-style', 'italic').text('Å');
  xl.append('tspan').text(')');
}

drawPair({
  top: 38.5, xdom: [12060, 12180], xticks: xTicksTop,
  spec: topSpectrum, resid: topResidual, tell: topTelluric,
  branches: [
    {level: branchLevels.P, start: topP[0][1], end: 12180, items: topP},
    {level: branchLevels.Q, start: topQ[0][1], end: 12180, items: topQ},
    {level: branchLevels.R, start: rHeadTurn, end: 12180, items: topRHigh},
    {level: branchLevels.Rlow, start: rHeadTurn, end: topRLow[0][1], items: topRLow}
  ],
  headArc: true, letters: branchLetterPos, title: true
});
drawPair({
  top: 534.5, xdom: [12180, 12300], xticks: xTicksBottom,
  spec: bottomSpectrum, resid: bottomResidual, tell: bottomTelluric,
  branches: [
    {level: branchLevels.P, start: 12170, end: 12300, items: botP},
    {level: branchLevels.Q, start: 12170, end: 12300, items: botQ},
    {level: branchLevels.R, start: 12170, end: 12300, items: botR}
  ],
  dibs: true
});
</script>
</body></html>
